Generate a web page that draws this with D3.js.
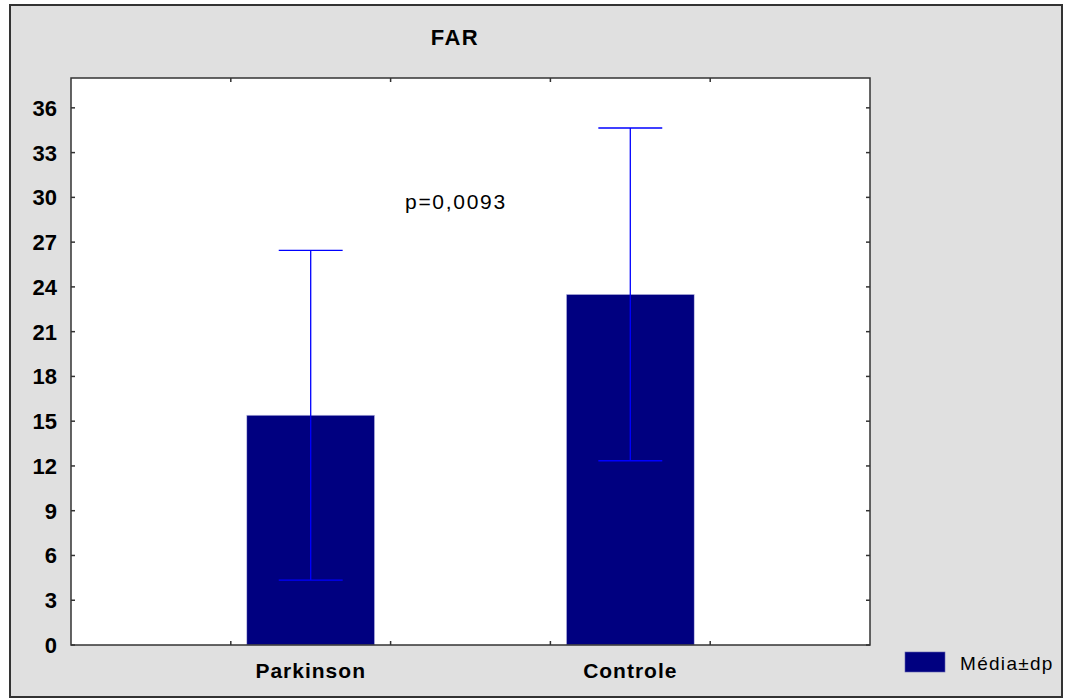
<!DOCTYPE html>
<html><head><meta charset="utf-8">
<script src="https://d3js.org/d3.v7.min.js"></script>
<style>body{margin:0;background:#fff}svg{display:block}</style>
</head><body>
<script>
const categories = ["Parkinson", "Controle"];
const slots = ["", "Parkinson", "", "Controle", ""];
const means = [15.4, 23.5];
const sds = [11.05, 11.15];
const yTicks = [0,3,6,9,12,15,18,21,24,27,30,33,36];
const title = "FAR";
const pText = "p=0,0093";
const legendLabel = "Média±dp";

const W = 1066, H = 700;
const svg = d3.select("body").append("svg").attr("width", W).attr("height", H);
svg.append("rect").attr("x",0).attr("y",0).attr("width",W).attr("height",H).attr("fill","#fff");
svg.append("rect").attr("x",10).attr("y",5).attr("width",1052).attr("height",692)
  .attr("fill","#e0e0e0").attr("stroke","#333").attr("stroke-width",2);

const L=71, R=870, T=78, B=645;
svg.append("rect").attr("x",L).attr("y",T).attr("width",R-L).attr("height",B-T).attr("fill","#fff");

const xb = d3.scaleLinear().domain([0,slots.length]).range([L,R]);
const y = d3.scaleLinear().domain([0,38]).range([B,T]);

const fontB = "'Liberation Sans', Arial, sans-serif";

// bars
const data = categories.map((c,i)=>({c, m:means[i], s:sds[i], slot:slots.indexOf(c)}));
const bw = (xb(1)-xb(0))*0.8;
const cx = d => (xb(d.slot)+xb(d.slot+1))/2;
svg.selectAll("rect.bar").data(data).enter().append("rect")
  .attr("class","bar")
  .attr("x", d=>cx(d)-bw/2).attr("width", bw)
  .attr("y", d=>y(d.m)).attr("height", d=>y(0)-y(d.m))
  .attr("fill","#000080").attr("stroke","#c8c8e8").attr("stroke-width",0.6);

// error bars
const eb = svg.selectAll("g.eb").data(data).enter().append("g").attr("stroke","#0000ff").attr("stroke-width",1.3);
eb.append("line").attr("x1",cx).attr("x2",cx).attr("y1",d=>y(d.m+d.s)).attr("y2",d=>y(d.m-d.s));
eb.append("line").attr("x1",d=>cx(d)-bw/4).attr("x2",d=>cx(d)+bw/4).attr("y1",d=>y(d.m+d.s)).attr("y2",d=>y(d.m+d.s));
eb.append("line").attr("x1",d=>cx(d)-bw/4).attr("x2",d=>cx(d)+bw/4).attr("y1",d=>y(d.m-d.s)).attr("y2",d=>y(d.m-d.s));

// axes
const ax = svg.append("g").attr("stroke","#333").attr("stroke-width",1.5);
ax.append("rect").attr("x",L).attr("y",T).attr("width",R-L).attr("height",B-T).attr("fill","none");
const ytk = yTicks;
ax.selectAll("line.yl").data(ytk).enter().append("line").attr("x1",L).attr("x2",L+4).attr("y1",d=>y(d)).attr("y2",d=>y(d));
ax.selectAll("line.yr").data(ytk).enter().append("line").attr("x1",R-4).attr("x2",R).attr("y1",d=>y(d)).attr("y2",d=>y(d));
const xt = [1,2,3,4];
ax.selectAll("line.xb").data(xt).enter().append("line").attr("x1",d=>xb(d)).attr("x2",d=>xb(d)).attr("y1",B-4).attr("y2",B);
ax.selectAll("line.xt").data(xt).enter().append("line").attr("x1",d=>xb(d)).attr("x2",d=>xb(d)).attr("y1",T).attr("y2",T+4);

// y labels
svg.selectAll("text.yt").data(ytk).enter().append("text")
  .attr("x",57).attr("y",d=>y(d)+8).attr("text-anchor","end")
  .attr("font-family",fontB).attr("font-weight","bold").attr("font-size",22)
  .attr("fill","#000").text(d=>d);

// x labels
svg.selectAll("text.xl").data(data).enter().append("text")
  .attr("x",cx).attr("y",678).attr("text-anchor","middle")
  .attr("font-family",fontB).attr("font-weight","bold").attr("font-size",21).attr("letter-spacing",1)
  .attr("fill","#000").text(d=>d.c);

// title
svg.append("text").attr("x",455).attr("y",45).attr("text-anchor","middle")
  .attr("font-family",fontB).attr("font-weight","bold").attr("font-size",22).attr("letter-spacing",1.5)
  .text(title);

// p value
svg.append("text").attr("x",405).attr("y",209)
  .attr("font-family",fontB).attr("font-size",21).attr("letter-spacing",1.7)
  .text(pText);

// legend
svg.append("rect").attr("x",905).attr("y",652).attr("width",40).attr("height",20).attr("fill","#000080").attr("stroke","#6060b0").attr("stroke-width",0.6);
svg.append("text").attr("x",960).attr("y",670)
  .attr("font-family",fontB).attr("font-size",19).attr("letter-spacing",1.3)
  .text(legendLabel);
</script>
</body></html>
